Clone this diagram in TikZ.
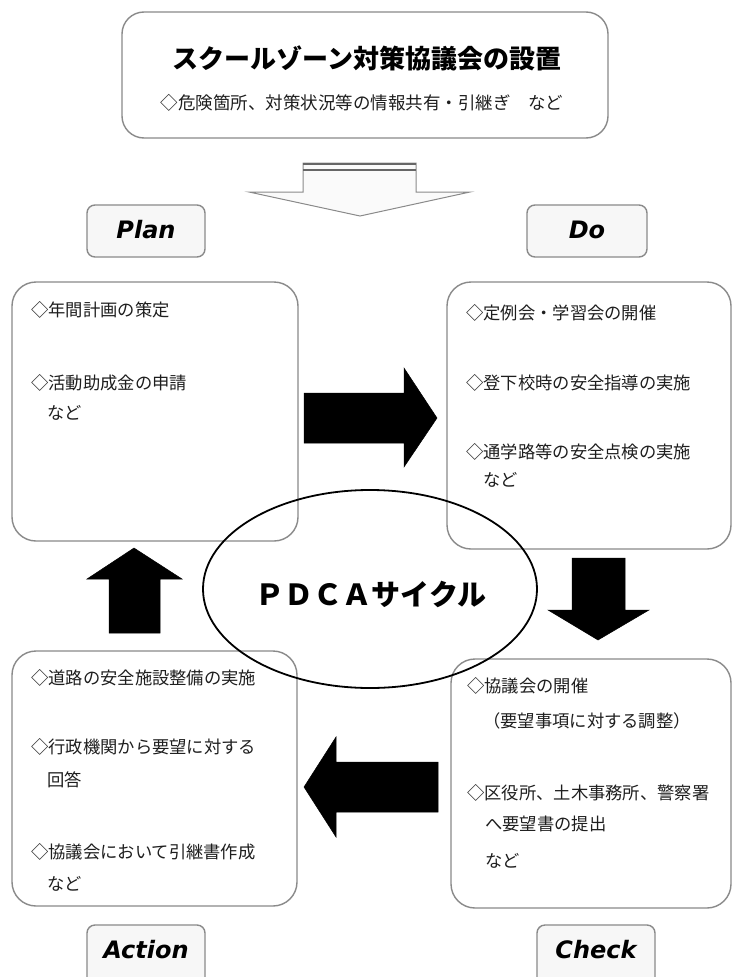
\documentclass[tikz,border=0pt]{standalone}
\usepackage{fontspec}
\newfontfamily\jp{Noto Sans CJK JP}
\newfontfamily\lat{DejaVu Sans}
\usetikzlibrary{shapes.geometric}
\definecolor{boxline}{HTML}{8A8A8A}
\definecolor{txt}{HTML}{1E1E1E}
\tikzset{
  bigbox/.style={draw=boxline, line width=1.4pt, rounded corners=24pt, fill=white},
  tagbox/.style={draw=boxline, line width=1.4pt, rounded corners=8pt, fill=black!3},
  tagtext/.style={font=\lat\bfseries\itshape\fontsize{24}{24}\selectfont, text=black},
  item/.style={anchor=west, inner sep=0pt, text=txt, font=\jp\fontsize{17.3}{17.3}\selectfont},
  blockarrow/.style={fill=black, draw=black, line width=0.5pt, line join=miter},
}
\begin{document}
\begin{tikzpicture}[x=1pt, y=-1pt]
\useasboundingbox (0,0) rectangle (732,977);
\fill[white] (0,0) rectangle (732,977);

% top box
\draw[boxline, line width=1.4pt, rounded corners=22pt] (122,12) rectangle (608,138);
\node[inner sep=0pt, text=black, font=\jp\bfseries\fontsize{26}{26}\selectfont] (title) at (367,58) {スクールゾーン対策協議会の設置};
\node[inner sep=0pt, text=txt, font=\jp\fontsize{17.5}{17.5}\selectfont] (sub) at (362,103) {◇危険箇所、対策状況等の情報共有・引継ぎ　など};

% hollow arrow
\draw[boxline, line width=1pt, fill=black!2, line join=miter]
  (303,163) -- (416,163) -- (416,192) -- (470,192) -- (360,216) -- (249,192) -- (303,192) -- cycle;
\draw[black!60, line width=2.5pt] (303,164) -- (416,164);
\draw[black!60, line width=2pt] (303,170) -- (416,170);

% tags
\draw[tagbox] (87,205) rectangle (205,257);
\node[tagtext] (plan) at (146,230) {Plan};
\draw[tagbox] (527,205) rectangle (647,257);
\node[tagtext] (do) at (587,230) {Do};
\draw[tagbox] (87,925) rectangle (205,995);
\node[tagtext] (act) at (146,950) {Action};
\draw[tagbox] (537,925) rectangle (655,995);
\node[tagtext] (chk) at (596,950) {Check};

% big boxes
\draw[bigbox] (12,282) rectangle (298,541);
\draw[bigbox] (447,282) rectangle (731,549);
\draw[bigbox] (12,651) rectangle (297,906);
\draw[bigbox] (451,659) rectangle (731,908);

% Plan text
\node[item] (p1) at (31,310) {◇年間計画の策定};
\node[item] (p2) at (31,383) {◇活動助成金の申請};
\node[item] (p3) at (47,413) {など};
% Do text
\node[item] (d1) at (466,313) {◇定例会・学習会の開催};
\node[item] (d2) at (466,383) {◇登下校時の安全指導の実施};
\node[item] (d3) at (466,452) {◇通学路等の安全点検の実施};
\node[item] (d4) at (483,480) {など};
% Action text
\node[item] (a1) at (31,678) {◇道路の安全施設整備の実施};
\node[item] (a2) at (31,747) {◇行政機関から要望に対する};
\node[item] (a3) at (47,780) {回答};
\node[item] (a4) at (31,852) {◇協議会において引継書作成};
\node[item] (a5) at (47,884) {など};
% Check text
\node[item] (c1) at (467,686) {◇協議会の開催};
\node[item] (c2) at (483,721) {（要望事項に対する調整）};
\node[item] (c3) at (467,793) {◇区役所、土木事務所、警察署};
\node[item] (c4) at (485,824) {へ要望書の提出};
\node[item] (c5) at (485,861) {など};

% block arrows
\draw[blockarrow] (304,393) -- (404,393) -- (404,368) -- (437,418) -- (404,467) -- (404,443) -- (304,443) -- cycle;
\draw[blockarrow] (572,558) -- (625,558) -- (625,610) -- (649,610) -- (598,640) -- (548,610) -- (572,610) -- cycle;
\draw[blockarrow] (438,762) -- (336,762) -- (336,737) -- (304,787) -- (336,837) -- (336,812) -- (438,812) -- cycle;
\draw[blockarrow] (109,633) -- (109,579) -- (87,579) -- (134,548) -- (182,579) -- (160,579) -- (160,633) -- cycle;

% ellipse
\node[ellipse, draw=black, line width=1.8pt, minimum width=334pt, minimum height=198pt, inner sep=0pt] (cyc) at (370,589) {};
\node[inner sep=0pt, text=black, font=\jp\bfseries\fontsize{29}{29}\selectfont] (pdca) at (371,594) {ＰＤＣＡサイクル};
\end{tikzpicture}
\end{document}
